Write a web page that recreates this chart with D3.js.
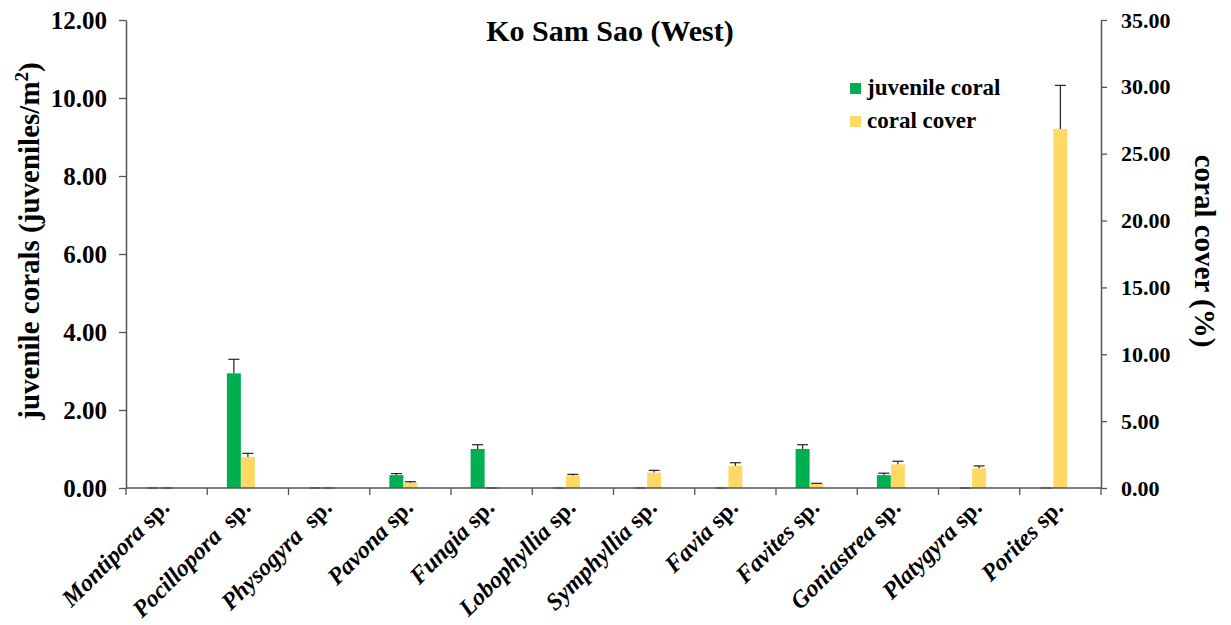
<!DOCTYPE html>
<html>
<head>
<meta charset="utf-8">
<script src="https://cdn.jsdelivr.net/npm/d3@7"></script>
<style>
  html, body { margin: 0; padding: 0; background: #fff; }
  svg { display: block; }
  svg text { font-family: "Liberation Serif", Tinos, "Times New Roman", Times, "DejaVu Serif", serif !important; font-weight: bold; fill: #000; }
</style>
</head>
<body>
<svg id="chart" width="1231" height="625"></svg>
<script>
// Genera surveyed at Ko Sam Sao (West)
const genera = ["Montipora", "Pocillopora", "Physogyra", "Pavona", "Fungia", "Lobophyllia",
                "Symphyllia", "Favia", "Favites", "Goniastrea", "Platygyra", "Porites"];
// text after the italic genus name in each category label
const suffixes = [" sp.", "  sp.", "  sp.", " sp.", " sp.", " sp.",
                  " sp.", " sp.", " sp.", " sp.", " sp.", " sp."];

// juvenile coral density (juveniles/m²) and its standard error
const juvenileDensity = [0, 2.94, 0, 0.33, 1.00, 0, 0, 0, 1.00, 0.33, 0, 0];
const juvenileError   = [0, 0.36, 0, 0.04, 0.11, 0, 0, 0, 0.11, 0.05, 0, 0];

// live coral cover (%) and its standard error
const coverPercent = [0, 2.32, 0, 0.40, 0, 0.92, 1.15, 1.67, 0.32, 1.77, 1.47, 26.85];
const coverError   = [0, 0.27, 0, 0.07, 0, 0.10, 0.17, 0.22, 0.03, 0.23, 0.18, 3.26];

// axis ticks
const leftTicks  = [0, 2, 4, 6, 8, 10, 12];
const rightTicks = [0, 5, 10, 15, 20, 25, 30, 35];

const seriesNames  = ["juvenile coral", "coral cover"];
const seriesColors = ["#00B050", "#FFD966"];

const svg = d3.select("#chart");
const plotLeft = 126, plotRight = 1101, plotTop = 20, plotBottom = 488;

const x = d3.scaleBand().domain(genera).range([plotLeft, plotRight]).paddingInner(0).paddingOuter(0);
const yL = d3.scaleLinear().domain([0, 12]).range([plotBottom, plotTop]);
const yR = d3.scaleLinear().domain([0, 35]).range([plotBottom, plotTop]);

// each category holds three equal slots; the bars fill the first two
const groupWidth = x.bandwidth() * 0.517;
const slot = d3.scaleBand().domain([0, 1, 2]).range([0, groupWidth]);
const groupStart = c => x(c) + (x.bandwidth() - groupWidth) / 2;

const series = [
  { values: juvenileDensity, errors: juvenileError, scale: yL, color: seriesColors[0], slot: 0 },
  { values: coverPercent, errors: coverError, scale: yR, color: seriesColors[1], slot: 1 }
];

const axisColor = "#555";

// bars
series.forEach(s => {
  const rows = genera.map((g, i) => ({ g, v: s.values[i], e: s.errors[i] }));
  svg.append("g").selectAll("rect").data(rows).join("rect")
    .attr("x", d => groupStart(d.g) + slot(s.slot))
    .attr("width", slot.bandwidth())
    .attr("y", d => s.scale(d.v))
    .attr("height", d => plotBottom - s.scale(d.v))
    .attr("fill", s.color);

  // positive error bars with caps
  const eb = svg.append("g").attr("stroke", "#222").attr("stroke-width", 1.2);
  const cx = d => groupStart(d.g) + slot(s.slot) + slot.bandwidth() / 2;
  eb.selectAll("line.v").data(rows).join("line").attr("class", "v")
    .attr("x1", cx).attr("x2", cx)
    .attr("y1", d => s.scale(d.v)).attr("y2", d => s.scale(d.v + d.e));
  eb.selectAll("line.c").data(rows).join("line").attr("class", "c")
    .attr("x1", d => cx(d) - 5.5).attr("x2", d => cx(d) + 5.5)
    .attr("y1", d => s.scale(d.v + d.e)).attr("y2", d => s.scale(d.v + d.e));
});

// left axis
const gL = svg.append("g").attr("transform", `translate(${plotLeft},0)`)
  .call(d3.axisLeft(yL).tickValues(leftTicks).tickFormat(d3.format(".2f"))
        .tickSize(7).tickSizeOuter(0).tickPadding(12));
// right axis
const gR = svg.append("g").attr("transform", `translate(${plotRight},0)`)
  .call(d3.axisRight(yR).tickValues(rightTicks).tickFormat(d3.format(".2f"))
        .tickSize(6).tickSizeOuter(0).tickPadding(14));
[gL, gR].forEach(g => {
  g.attr("font-family", null).attr("font-size", null);
  g.select(".domain").attr("stroke", axisColor).attr("stroke-width", 1.5);
  g.selectAll(".tick line").attr("stroke", axisColor).attr("stroke-width", 1.3);
  g.selectAll(".tick text").attr("fill", "#000");
});
gL.selectAll(".tick text").style("font-size", "25px");
gR.selectAll(".tick text").style("font-size", "22px");

// category axis: baseline and boundary ticks
const gX = svg.append("g");
gX.append("line").attr("x1", plotLeft).attr("x2", plotRight).attr("y1", plotBottom).attr("y2", plotBottom)
  .attr("stroke", axisColor).attr("stroke-width", 1.5);
const boundaries = genera.map(g => x(g)).concat([plotRight]);
gX.selectAll("line.t").data(boundaries).join("line").attr("class", "t")
  .attr("x1", d => d).attr("x2", d => d).attr("y1", plotBottom).attr("y2", plotBottom + 7)
  .attr("stroke", axisColor).attr("stroke-width", 1.3);

// rotated category labels: italic genus + upright "sp."
const labels = gX.selectAll("text.lab").data(genera).join("text").attr("class", "lab")
  .attr("transform", g => `translate(${x(g) + x.bandwidth() / 2 + 4},509) rotate(-45)`)
  .attr("text-anchor", "end")
  .style("font-size", "24px")
  .style("white-space", "pre");
labels.append("tspan").style("font-style", "italic").text(g => g);
labels.append("tspan").text((g, i) => suffixes[i]);

// title
svg.append("text").attr("x", 610).attr("y", 41).attr("text-anchor", "middle")
  .style("font-size", "30px").text("Ko Sam Sao (West)");

// left axis title
const yt = svg.append("text").attr("transform", "translate(39,241) rotate(-90)")
  .attr("text-anchor", "middle").style("font-size", "29px");
yt.append("tspan").text("juvenile corals (juveniles/m");
yt.append("tspan").attr("dy", -11).style("font-size", "19px").text("2");
yt.append("tspan").attr("dy", 11).text(")");

// right axis title
svg.append("text").attr("transform", "translate(1195,251) rotate(90)")
  .attr("text-anchor", "middle").style("font-size", "29px").text("coral cover (%)");

// legend
const lg = svg.append("g").attr("transform", "translate(850,83)");
seriesNames.forEach((name, i) => {
  lg.append("rect").attr("x", 0).attr("y", i * 33).attr("width", 11).attr("height", 11)
    .attr("fill", seriesColors[i]);
  lg.append("text").attr("x", 17).attr("y", i * 33 + 12).style("font-size", "23px").text(name);
});
</script>
</body>
</html>
